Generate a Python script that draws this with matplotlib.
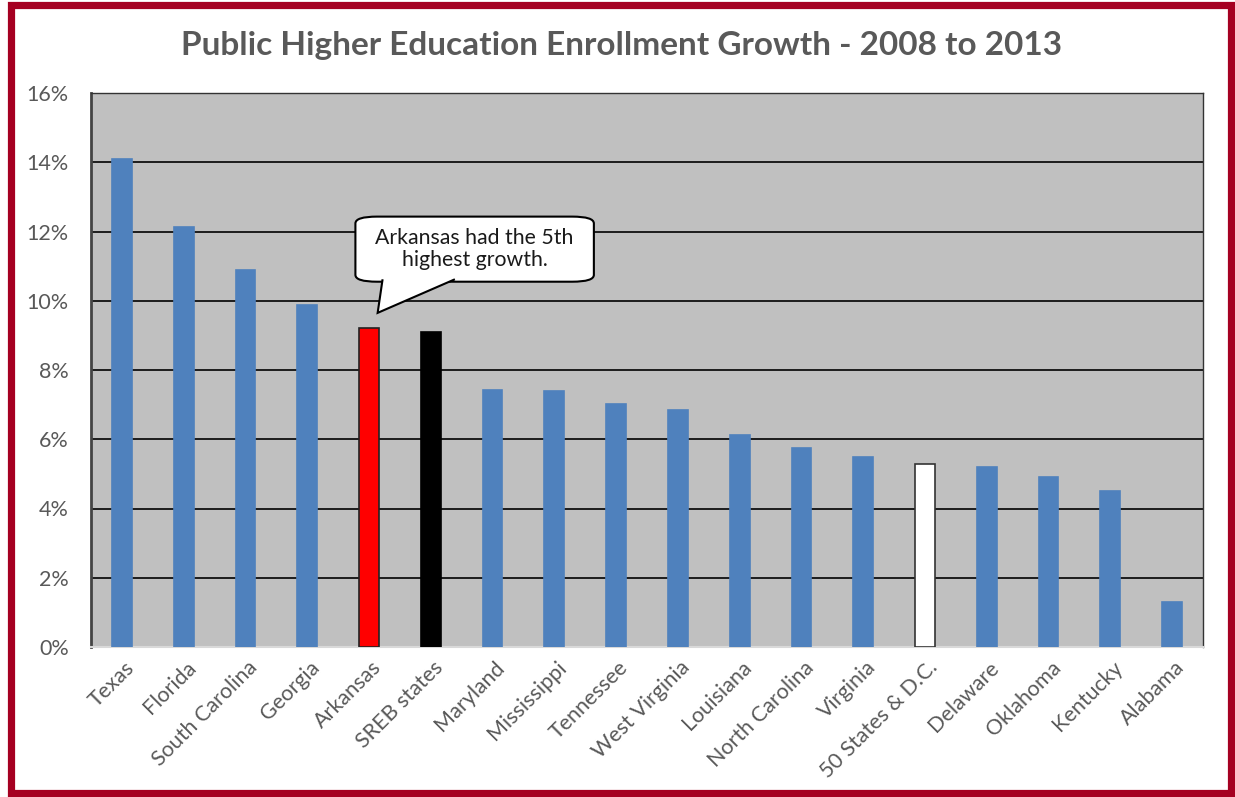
import matplotlib.pyplot as plt
from matplotlib.patches import FancyBboxPatch, Polygon, Rectangle
from matplotlib.ticker import FuncFormatter
import matplotlib.transforms as mtransforms

plt.rcParams['font.family'] = ['Lato', 'DejaVu Sans']

states = ['Texas', 'Florida', 'South Carolina', 'Georgia', 'Arkansas', 'SREB states',
          'Maryland', 'Mississippi', 'Tennessee', 'West Virginia', 'Louisiana',
          'North Carolina', 'Virginia', '50 States & D.C.', 'Delaware', 'Oklahoma',
          'Kentucky', 'Alabama']
growth = [14.09, 12.12, 10.89, 9.87, 9.22, 9.09, 7.42, 7.39, 7.02, 6.84, 6.12,
          5.75, 5.48, 5.28, 5.21, 4.91, 4.51, 1.29]
y_ticks = [0, 2, 4, 6, 8, 10, 12, 14, 16]

blue = '#4F81BD'
fills = [blue] * len(states)
edges = [blue] * len(states)
fills[4], edges[4] = '#FF0000', '#222222'
fills[5], edges[5] = '#000000', '#000000'
fills[13], edges[13] = '#FFFFFF', '#333333'

W, H = 1235, 797
fig = plt.figure(figsize=(W / 100, H / 100), dpi=100)
ax = fig.add_axes([91 / W, (H - 647) / H, 1112 / W, 554 / H])
ax.set_facecolor('#C0C0C0')

x = list(range(len(states)))
ax.bar(x, growth, width=0.32, color=fills, edgecolor=edges, linewidth=1.2, zorder=3)

ax.set_xlim(-0.5, len(states) - 0.5)
ax.set_ylim(0, 16)
ax.set_yticks(y_ticks)
ax.yaxis.set_major_formatter(FuncFormatter(lambda v, p: f'{v:.0f}%'))
ax.grid(axis='y', color='black', linewidth=1.2, zorder=1)
ax.set_axisbelow(True)
ax.tick_params(axis='y', length=0, pad=16, labelsize=15.5, labelcolor='#595959')
ax.tick_params(axis='x', length=0, pad=6, labelsize=15.5, labelcolor='#595959')

ax.set_xticks(x)
ax.set_xticklabels(states, rotation=45, ha='right', va='top', rotation_mode='anchor')
offset = mtransforms.ScaledTranslation(2 / 100, -2 / 100, fig.dpi_scale_trans)
for lab in ax.get_xticklabels():
    lab.set_transform(lab.get_transform() + offset)

for side in ['top', 'right']:
    ax.spines[side].set_color('#333333')
    ax.spines[side].set_linewidth(1.0)
ax.spines['left'].set_color('#444444')
ax.spines['left'].set_linewidth(2)
ax.spines['bottom'].set_color('#D9D9D9')
ax.spines['bottom'].set_linewidth(1.5)

# callout
box = FancyBboxPatch((3.78, 10.55), 3.86, 1.88,
                     boxstyle='round,pad=0,rounding_size=0.35',
                     mutation_aspect=0.56,
                     facecolor='white', edgecolor='black', linewidth=1.5, zorder=6)
ax.add_patch(box)
tail = Polygon([(4.22, 10.62), (4.14, 9.65), (5.39, 10.62)], closed=False,
               facecolor='white', edgecolor='black', linewidth=1.5, zorder=7)
ax.add_patch(tail)
ax.text(5.71, 11.49, 'Arkansas had the 5th\nhighest growth.', ha='center', va='center',
        fontsize=15.3, color='#1a1a1a', linespacing=1.15, zorder=8)

fig.text(0.503, 1 - 45 / H, 'Public Higher Education Enrollment Growth - 2008 to 2013',
         ha='center', va='center', fontsize=24, fontweight='bold', color='#595959')

fig.patches.append(Rectangle((10.5 / W, 4.5 / H), 1220.5 / W, 788 / H,
                             transform=fig.transFigure, fill=False,
                             edgecolor='#A50021', linewidth=5.2))

fig.savefig('out.png', dpi=100)
